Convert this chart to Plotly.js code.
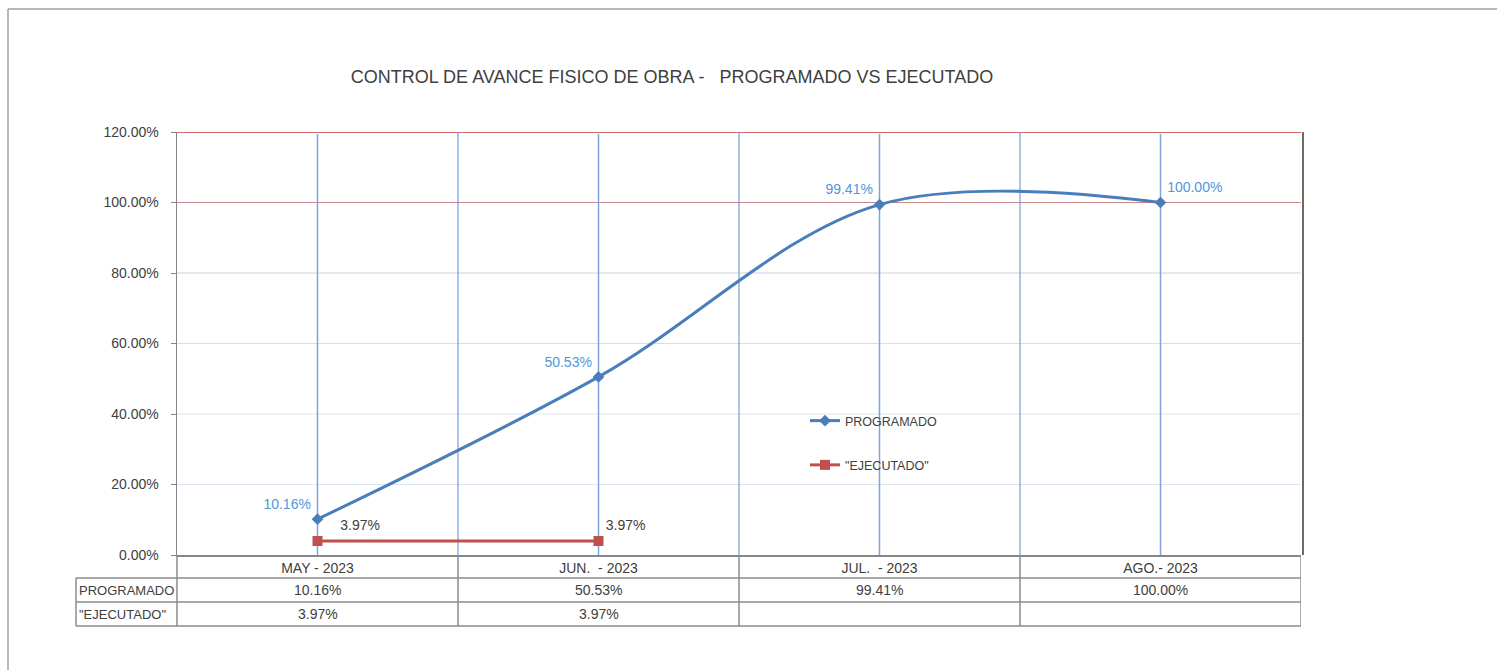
<!DOCTYPE html>
<html>
<head>
<meta charset="utf-8">
<script src="https://cdn.plot.ly/plotly-3.0.1.min.js"></script>
<style>
  html, body { margin: 0; padding: 0; background: #ffffff; }
  #chart { width: 1497px; height: 670px; }
</style>
</head>
<body>
<div id="chart"></div>
<script>
// ---- data ----
const categories = ["MAY - 2023", "JUN.\u00a0 - 2023", "JUL.\u00a0 - 2023", "AGO.- 2023"];
const programado = [0.1016, 0.5053, 0.9941, 1.0000];
const ejecutado = [0.0397, 0.0397, null, null];
const seriesNames = ["PROGRAMADO", "\"EJECUTADO\""];
const yTicks = [0, 0.2, 0.4, 0.6, 0.8, 1.0, 1.2];
const yGridColors = ["#868686", "#dbe5f4", "#dbe5f4", "#d3e0f3", "#cfcfe2", "#c9868c", "#c0393b"];
const titleText = "CONTROL DE AVANCE FISICO DE OBRA -\u00a0\u00a0 PROGRAMADO VS EJECUTADO";

// ---- layout geometry (pixels) ----
const L = 177, R = 1301, T = 132, B = 555;
const W = R - L, H = B - T;
const px = x => (x - L) / W;
const py = y => (B - y) / H;

const FONT = "'Liberation Sans Narrow', 'Arial Narrow', 'Liberation Sans', sans-serif";
const TXT = "#404040";
const TBL = "#8c8c8c";

const traces = [
  {
    x: categories, y: programado, name: seriesNames[0], legendgroup: "a",
    type: "scatter", mode: "lines+markers+text",
    line: { color: "#4a7ebb", width: 3, shape: "spline", smoothing: 1 },
    marker: { symbol: "diamond", size: 9, color: "#4a7ebb" },
    texttemplate: "%{y:.2%}",
    textposition: ["top left", "top left", "top left", "top right"],
    textfont: { family: FONT, size: 14, color: "#5296dc" },
    cliponaxis: false, hoverinfo: "skip"
  },
  {
    x: categories, y: ejecutado, name: seriesNames[1], legendgroup: "b",
    type: "scatter", mode: "lines+markers+text",
    line: { color: "#c0504d", width: 3 },
    marker: { symbol: "square", size: 10, color: "#c0504d" },
    texttemplate: ["\u00a0\u00a0\u00a0\u00a0%{y:.2%}", "%{y:.2%}"],
    textposition: "top right",
    textfont: { family: FONT, size: 14, color: TXT },
    cliponaxis: false, hoverinfo: "skip"
  }
];

const shapes = [];
const annotations = [];

// horizontal gridlines
yTicks.forEach((v, i) => {
  if (v === 0) return;
  shapes.push({ type: "line", xref: "paper", yref: "y", x0: 0, x1: 1, y0: v, y1: v,
    line: { color: yGridColors[i], width: v === 1.2 ? 1.5 : 1.2 }, layer: "below" });
});
// vertical lines at category centers and boundaries
categories.forEach((c, i) => {
  shapes.push({ type: "line", xref: "x", yref: "paper", x0: i, x1: i, y0: 0, y1: py(134),
    line: { color: "#7ea5d9", width: 1.5 }, layer: "below" });
  if (i > 0) {
    shapes.push({ type: "line", xref: "x", yref: "paper", x0: i - 0.5, x1: i - 0.5, y0: 0, y1: 1,
      line: { color: "#5d8ccc", width: 1 }, layer: "below" });
  }
});
// right border of plot area
shapes.push({ type: "line", xref: "paper", yref: "paper", x0: px(1303), x1: px(1303), y0: 0, y1: 1,
  line: { color: "#3b3b2b", width: 1.5 } });

// data table
const rowY = [555, 578, 602, 626];
[578, 602, 626].forEach(y => shapes.push({ type: "line", xref: "paper", yref: "paper",
  x0: px(76), x1: px(1301), y0: py(y), y1: py(y), line: { color: TBL, width: 1.5 } }));
shapes.push({ type: "line", xref: "paper", yref: "paper", x0: px(76), x1: px(76), y0: py(578), y1: py(626),
  line: { color: TBL, width: 1.5 } });
shapes.push({ type: "line", xref: "paper", yref: "paper", x0: 0, x1: 0, y0: 0, y1: py(626),
  line: { color: TBL, width: 1.5 } });
categories.forEach((c, i) => {
  shapes.push({ type: "line", xref: "x", yref: "paper", x0: i + 0.5, x1: i + 0.5, y0: 0, y1: py(626),
    line: { color: TBL, width: 1.5 } });
});
// row labels
seriesNames.forEach((n, r) => {
  annotations.push({ xref: "paper", yref: "paper", x: px(77), y: py((rowY[r + 1] + rowY[r + 2]) / 2),
    xanchor: "left", yanchor: "middle", text: n, showarrow: false,
    font: { family: FONT, size: 13, color: TXT } });
});
// row values
[programado, ejecutado].forEach((arr, r) => {
  arr.forEach((v, i) => {
    if (v === null) return;
    annotations.push({ xref: "x", yref: "paper", x: i, y: py((rowY[r + 1] + rowY[r + 2]) / 2),
      xanchor: "center", yanchor: "middle", text: (v * 100).toFixed(2) + "%", showarrow: false,
      font: { family: FONT, size: 14, color: TXT } });
  });
});

// outer frame (left and top edges)
shapes.push({ type: "line", xref: "paper", yref: "paper", x0: px(8), x1: px(8), y0: py(9), y1: py(672),
  line: { color: "#a0a0a0", width: 1.5 } });
shapes.push({ type: "line", xref: "paper", yref: "paper", x0: px(8), x1: px(1500), y0: py(9), y1: py(9),
  line: { color: "#a0a0a0", width: 1.5 } });

const layout = {
  width: 1497, height: 670,
  margin: { l: L, r: 1497 - R, t: T, b: 670 - B, pad: 0 },
  paper_bgcolor: "#ffffff", plot_bgcolor: "#ffffff",
  font: { family: FONT, color: TXT },
  title: {
    text: titleText, xref: "container", x: 672 / 1497, xanchor: "center",
    yref: "container", y: 1 - 77 / 670, yanchor: "middle",
    font: { family: FONT, size: 18, color: TXT }
  },
  xaxis: {
    type: "category", categoryorder: "array", categoryarray: categories,
    range: [-0.5, categories.length - 0.5],
    showgrid: false, zeroline: false, showline: true, linecolor: "#868686", linewidth: 1.5,
    ticks: "", tickfont: { family: FONT, size: 14, color: TXT }, fixedrange: true
  },
  yaxis: {
    range: [0, 1.2], tickvals: yTicks, tickformat: ".2%",
    showgrid: false, zeroline: false, showline: true, linecolor: "#868686", linewidth: 1.5,
    ticks: "outside", ticklen: 5, tickcolor: "#868686",
    ticklabelstandoff: 9,
    tickfont: { family: FONT, size: 14, color: TXT }, fixedrange: true
  },
  showlegend: true,
  legend: {
    x: px(805), y: py(406), xanchor: "left", yanchor: "top",
    bgcolor: "rgba(0,0,0,0)", traceorder: "grouped", tracegroupgap: 25,
    font: { family: FONT, size: 12.5, color: TXT }, itemwidth: 30
  },
  shapes: shapes,
  annotations: annotations
};

Plotly.newPlot("chart", traces, layout, { staticPlot: true, displayModeBar: false });
</script>
</body>
</html>
